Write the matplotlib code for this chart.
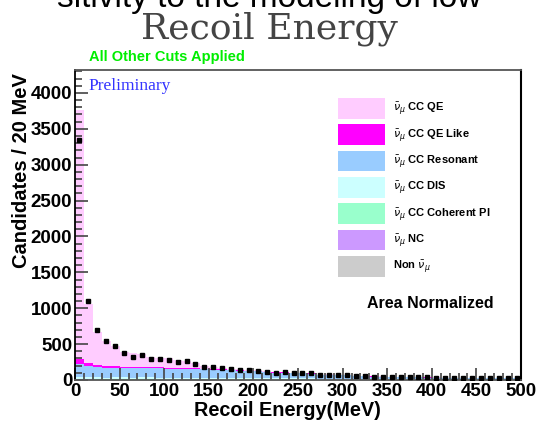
import numpy as np
import matplotlib
matplotlib.use('Agg')
import matplotlib.pyplot as plt
from matplotlib.patches import Patch
from matplotlib.ticker import MultipleLocator

# bin centres of the recoil energy histogram (10 MeV bins)
centers = np.arange(5, 500, 10)

# data points (black squares)
data = [3350, 1100, 690, 540, 470, 370, 325, 345, 298, 298,
        283, 257, 260, 220, 180, 175, 172, 155, 145, 135,
        130, 110, 102, 108, 100, 100, 98, 65, 76, 76,
        70, 55, 55, 48, 45, 45, 40, 38, 38, 35,
        30, 30, 28, 27, 26, 26, 24, 24, 22, 22]

# MC components, stacked bottom -> top
nonnu = [4, 3, 3, 2, 2, 2, 2, 2, 2, 2, 2, 2, 2, 2, 2, 2, 2, 1, 1, 1,
         1, 1, 1, 1, 1, 1, 1, 1, 1, 1, 1, 1, 1, 1, 1, 1, 1, 1, 1, 1,
         1, 1, 1, 1, 1, 1, 1, 1, 1, 1]
nc = [5, 4, 3, 3, 3, 3, 3, 3, 3, 2, 2, 2, 2, 2, 2, 2, 2, 2, 2, 2,
      2, 2, 2, 1, 1, 1, 1, 1, 1, 1, 1, 1, 1, 1, 1, 1, 1, 1, 1, 1,
      1, 1, 1, 1, 1, 1, 1, 1, 1, 1]
coh = [6, 5, 4, 3, 3, 3, 2, 2, 2, 2, 2, 2, 2, 2, 2, 1, 1, 1, 1, 1,
       1, 1, 1, 1, 1, 1, 1, 1, 1, 1, 1, 1, 1, 1, 1, 1, 1, 1, 1, 1,
       1, 1, 1, 1, 1, 1, 1, 1, 1, 1]
dis = [25, 25, 26, 26, 27, 27, 27, 28, 28, 28, 28, 28, 28, 28, 27, 27, 27, 26, 26, 25,
       25, 24, 23, 22, 21, 20, 19, 17, 17, 16, 15, 13, 13, 12, 11, 11, 10, 10, 9, 9,
       8, 8, 8, 7, 7, 7, 6, 6, 6, 6]
res = [180, 160, 145, 140, 138, 135, 134, 132, 130, 128, 126, 124, 122, 120, 115, 112, 108, 104, 100, 95,
       90, 82, 77, 75, 71, 69, 67, 48, 50, 50, 46, 38, 37, 33, 30, 29, 27, 25, 24, 22,
       21, 19, 18, 17, 16, 15, 15, 14, 13, 13]
qelike = [70, 45, 35, 25, 20, 18, 17, 16, 15, 14, 13, 12, 11, 10, 9, 8, 8, 7, 7, 6,
          6, 5, 5, 5, 4, 4, 4, 3, 3, 3, 3, 2, 2, 2, 2, 2, 2, 2, 2, 2,
          1, 1, 1, 1, 1, 1, 1, 1, 1, 1]
qe = [3470, 818, 454, 351, 287, 202, 185, 177, 140, 134, 127, 110, 103, 76, 43, 28, 22, 19, 13, 10,
      8, 7, 6, 6, 5, 5, 5, 4, 4, 4, 3, 3, 3, 3, 3, 2, 2, 2, 2, 2,
      2, 2, 2, 1, 1, 1, 1, 1, 1, 1]

labels = [r'$\bar{\nu}_{\mu}$ CC QE', r'$\bar{\nu}_{\mu}$ CC QE Like', r'$\bar{\nu}_{\mu}$ CC Resonant',
          r'$\bar{\nu}_{\mu}$ CC DIS', r'$\bar{\nu}_{\mu}$ CC Coherent PI', r'$\bar{\nu}_{\mu}$ NC',
          r'Non $\bar{\nu}_{\mu}$']
colors = ['#ffccff', '#ff00ff', '#99ccff', '#ccffff', '#99ffcc', '#cc99ff', '#cccccc']

plt.rcParams['font.family'] = ['Liberation Sans', 'DejaVu Sans']
plt.rcParams['mathtext.fontset'] = 'dejavusans'

fig = plt.figure(figsize=(5.38, 4.25), dpi=100)
ax = fig.add_axes([75/538, 45/425, 446/538, 310/425])

stack = [nonnu, nc, coh, dis, res, qelike, qe]
stack_cols = colors[::-1]
bottom = np.zeros(len(centers))
for vals, c in zip(stack, stack_cols):
    ax.bar(centers, vals, width=10, bottom=bottom, color=c, edgecolor='none', zorder=1)
    bottom = bottom + np.array(vals)

ax.plot(centers, data, 's', color='black', ms=3.5, zorder=3)

ax.set_xlim(0, 500)
ax.set_ylim(0, 4320)
ax.xaxis.set_major_locator(MultipleLocator(50))
ax.xaxis.set_minor_locator(MultipleLocator(10))
ax.yaxis.set_major_locator(MultipleLocator(500))
ax.yaxis.set_minor_locator(MultipleLocator(100))
ax.tick_params(which='both', direction='in', color='#444444', width=1.2, zorder=5)
ax.tick_params(which='major', length=9)
ax.tick_params(which='minor', length=5)
ax.tick_params(axis='both', labelsize=13.5, pad=2)
for lab in ax.get_xticklabels() + ax.get_yticklabels():
    lab.set_fontweight('bold')
for s in ['top', 'bottom', 'left']:
    ax.spines[s].set_color('#555555')
    ax.spines[s].set_linewidth(1.3)
ax.spines['left'].set_color('black')
ax.spines['right'].set_color('black')
ax.spines['right'].set_linewidth(1.5)

handles = [Patch(facecolor=c, edgecolor='none') for c in colors]
leg = ax.legend(handles, labels, loc='upper left', bbox_to_anchor=(0.59, 0.91),
                frameon=False, fontsize=8, handlelength=4.25, handleheight=2.5,
                labelspacing=0.5, handletextpad=0.72, borderpad=0, borderaxespad=0)
for t in leg.get_texts():
    t.set_fontweight('bold')

ax.text(0.796, 0.248, 'Area Normalized', transform=ax.transAxes, ha='center', va='center',
        fontsize=11.5, fontweight='bold')
ax.text(0.03, 0.95, 'Preliminary', transform=ax.transAxes, ha='left', va='center',
        fontsize=12.5, color='#3333ff', family='Liberation Serif')

fig.text(89/538, 1 - 57/425, 'All Other Cuts Applied', color='#00ee00', fontsize=10.5,
         fontweight='bold', ha='left', va='center')
fig.text(0.5, 1 - 39/425, 'Recoil Energy', family='DejaVu Serif', fontsize=26,
         color='#444444', ha='center', va='baseline')
fig.text(0.5, 1 - 7/425, 'sitivity to the modeling of low', fontsize=24, color='black',
         ha='center', va='baseline')
fig.text(22/538, 1 - 171/425, 'Candidates / 20 MeV', rotation=90, fontsize=14.5,
         fontweight='bold', ha='center', va='center')
fig.text(287/538, 1 - 410/425, 'Recoil Energy(MeV)', fontsize=14.3, fontweight='bold',
         ha='center', va='center')

fig.savefig('out.png', dpi=100)
